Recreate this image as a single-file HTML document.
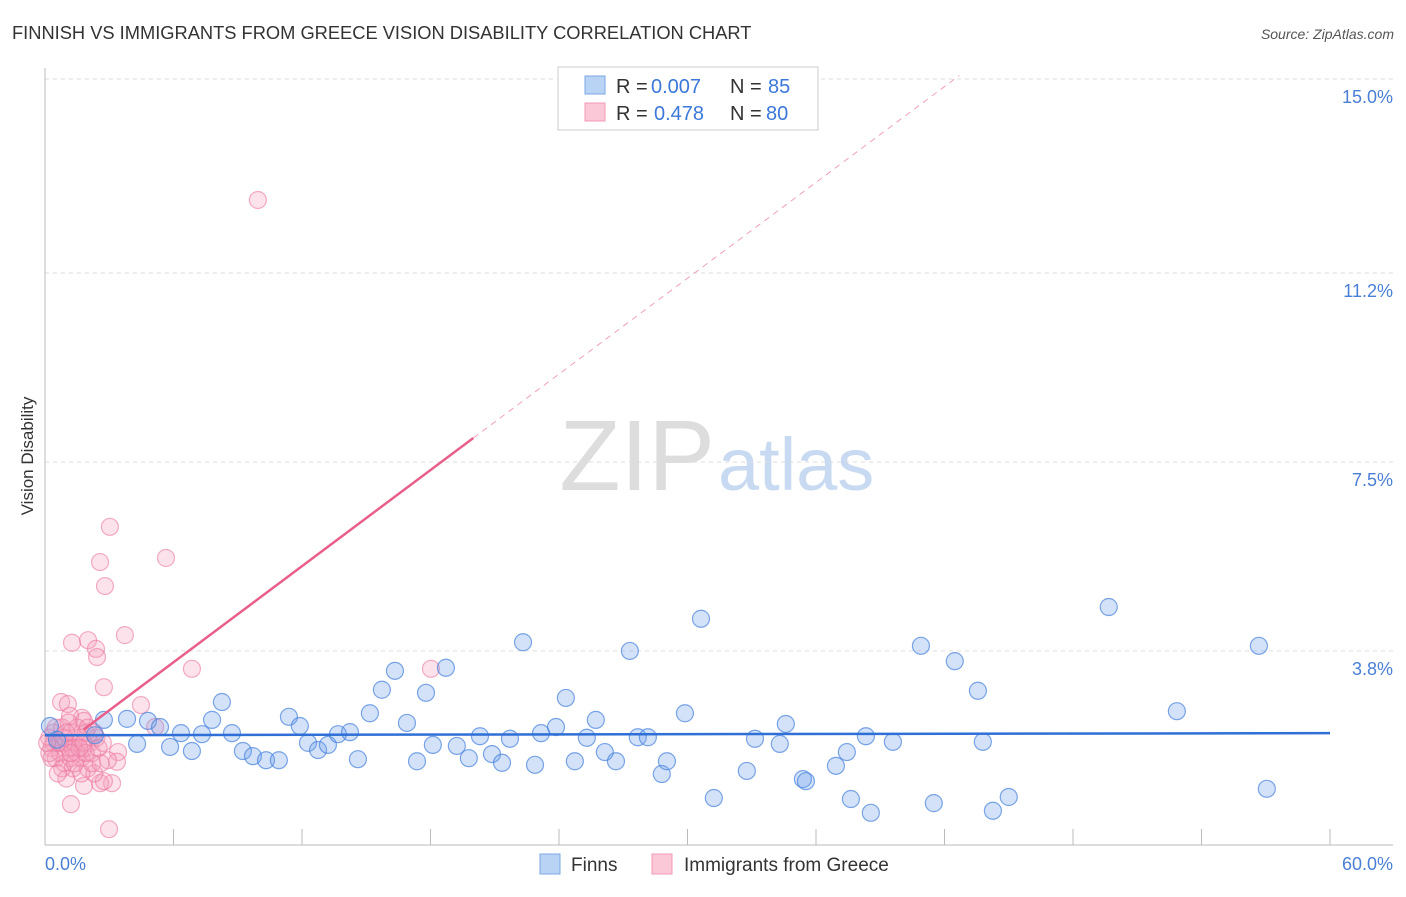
<!DOCTYPE html>
<html><head><meta charset="utf-8"><style>
body{margin:0;background:#fff;font-family:"Liberation Sans",sans-serif;}
svg text{font-family:"Liberation Sans",sans-serif;}
</style></head><body>
<svg id="chart" width="1406" height="892">
<text x="12" y="39" font-size="18.3" fill="#333">FINNISH VS IMMIGRANTS FROM GREECE VISION DISABILITY CORRELATION CHART</text>
<text x="1394" y="39" font-size="14" fill="#555" font-style="italic" text-anchor="end">Source: ZipAtlas.com</text>
<text x="33" y="456" font-size="17" fill="#333" transform="rotate(-90 33 456)" text-anchor="middle">Vision Disability</text>
<text x="715" y="490" font-size="100" fill="#ddd" font-family="Liberation Serif" text-anchor="end">ZIP</text>
<text x="718" y="490" font-size="74" fill="#c8daf2">atlas</text>
<g id="grid"></g><g id="pts"></g><g id="lines"></g>
<g>
<rect x="558" y="67" width="260" height="63" fill="#fff" stroke="#ccc"/>
<rect x="585" y="76" width="20" height="18" fill="#b9d3f5" stroke="#7aa7e6"/>
<rect x="585" y="103" width="20" height="18" fill="#fbc8d8" stroke="#f09ab5"/>
<text x="616" y="93" font-size="20" fill="#333">R =</text>
<text x="651" y="93" font-size="20" fill="#3b78d8">0.007</text>
<text x="730" y="93" font-size="20" fill="#333">N =</text>
<text x="768" y="93" font-size="20" fill="#3b78d8">85</text>
<text x="616" y="120" font-size="20" fill="#333">R =</text>
<text x="654" y="120" font-size="20" fill="#3b78d8">0.478</text>
<text x="730" y="120" font-size="20" fill="#333">N =</text>
<text x="766" y="120" font-size="20" fill="#3b78d8">80</text>
</g>
<g>
<rect x="540" y="854" width="20" height="20" fill="#b9d3f5" stroke="#7aa7e6"/>
<text x="571" y="871" font-size="19" fill="#333">Finns</text>
<rect x="652" y="854" width="20" height="20" fill="#fbc8d8" stroke="#f09ab5"/>
<text x="684" y="871" font-size="19" fill="#333">Immigrants from Greece</text>
</g>
</svg>
<script>
const yTicks=[3.8,7.5,11.2,15.0];
const yTickLabels=["3.8%","7.5%","11.2%","15.0%"];
const xTickCount=10;
const finns=[[2.75,2.45],[3.83,2.47],[4.81,2.43],[5.37,2.31],[4.30,1.98],[5.84,1.92],[6.35,2.19],[6.86,1.84],[7.33,2.17],[7.80,2.45],[8.26,2.80],[8.73,2.19],[9.24,1.84],[9.71,1.74],[10.32,1.66],[10.92,1.66],[11.39,2.51],[11.90,2.33],[12.28,2.00],[12.75,1.86],[13.21,1.96],[13.68,2.17],[14.24,2.21],[14.61,1.68],[15.17,2.58],[15.73,3.04],[16.34,3.41],[16.90,2.39],[17.37,1.64],[17.79,2.98],[18.11,1.96],[18.72,3.47],[19.23,1.94],[19.79,1.70],[20.31,2.13],[20.87,1.78],[21.34,1.61],[21.71,2.08],[22.32,3.97],[22.88,1.57],[23.16,2.19],[23.86,2.31],[24.32,2.88],[24.74,1.64],[25.30,2.10],[25.72,2.45],[26.14,1.82],[26.66,1.64],[27.31,3.80],[27.68,2.11],[28.15,2.11],[28.80,1.39],[29.04,1.64],[29.88,2.58],[30.63,4.43],[31.23,0.92],[32.77,1.45],[33.15,2.08],[34.31,1.98],[34.59,2.37],[35.39,1.29],[35.53,1.25],[36.93,1.55],[37.44,1.82],[37.63,0.90],[38.33,2.13],[38.56,0.63],[39.59,2.02],[40.90,3.90],[41.50,0.82],[42.48,3.60],[43.56,3.02],[43.79,2.02],[44.26,0.67],[45.00,0.94],[49.67,4.66],[52.85,2.62],[56.68,3.90],[57.05,1.10],[0.23,2.33],[0.56,2.06],[2.33,2.15]];
const greece=[[9.94,12.63],[3.03,6.23],[2.57,5.54],[5.65,5.62],[2.80,5.07],[1.26,3.96],[2.01,4.01],[2.38,3.84],[2.43,3.68],[3.73,4.11],[6.86,3.45],[2.75,3.09],[4.48,2.74],[0.75,2.80],[1.07,2.76],[18.02,3.45],[3.13,1.21],[2.99,0.31],[1.21,0.80],[5.14,2.31],[3.41,1.82],[3.36,1.63],[2.94,1.66],[2.57,1.21],[2.75,1.25],[1.82,1.16],[1.73,2.49],[1.82,2.43],[1.17,2.53],[0.2,2.1],[0.3,1.9],[0.4,2.2],[0.5,1.7],[0.6,2.0],[0.7,1.8],[0.8,2.3],[0.9,1.6],[1.0,2.0],[1.1,1.9],[1.2,2.2],[1.3,1.5],[1.4,2.0],[1.5,1.8],[1.6,2.1],[1.7,1.7],[1.8,1.9],[1.9,2.2],[2.0,1.5],[2.1,2.0],[2.2,1.8],[2.3,1.4],[2.4,2.1],[2.5,1.9],[0.3,1.7],[0.5,2.3],[0.8,1.5],[1.0,1.3],[1.2,1.7],[1.5,2.3],[1.7,1.4],[2.0,2.3],[2.2,1.6],[0.4,2.0],[0.9,2.1],[1.3,1.9],[1.8,2.0],[2.6,1.6],[0.6,1.4],[1.1,2.4],[1.4,1.6],[1.9,1.8],[2.7,2.0],[0.2,1.8],[1.6,1.9],[2.3,2.2],[1.0,2.2],[0.7,2.0],[1.2,1.8],[0.1,2.0]];
const finnsTrend=[[0,2.15],[60,2.19]];
const greeceTrend=[[1.8,2.26],[20,7.97],[42.7,15.07]];

const NS="http://www.w3.org/2000/svg";
const X=v=>45+v*(1285/60);
const Y=v=>845-v*51.07;
function mk(tag,attrs,parent){const e=document.createElementNS(NS,tag);for(const k in attrs)e.setAttribute(k,attrs[k]);parent.appendChild(e);return e;}
const grid=document.getElementById('grid');
yTicks.forEach((t,i)=>{
  const l=mk('line',{x1:45,x2:1393,y1:Y(t),y2:Y(t),stroke:'#ddd','stroke-dasharray':'4,4'},grid);
  
  
  const tx=mk('text',{x:1393,y:Y(t)+24,'font-size':18,fill:'#4a7fd6','text-anchor':'end'},grid);
  tx.textContent=yTickLabels[i];
  
  
});
const ax=mk('line',{x1:45,x2:45,y1:68,y2:845,stroke:'#bbb'},grid);


const bx=mk('line',{x1:45,x2:1393,y1:845,y2:845,stroke:'#bbb'},grid);


for(let i=1;i<=xTickCount;i++){
  const t=mk('line',{x1:X(i*6),x2:X(i*6),y1:829,y2:845,stroke:'#bbb'},grid);
  
  
}
[["0.0%",45,'start'],["60.0%",1393,'end']].forEach(a=>{
  const t=mk('text',{x:a[1],y:870,'font-size':18,fill:'#4a7fd6','text-anchor':a[2]},grid);
  t.textContent=a[0];
  
  
});
const pts=document.getElementById('pts');
greece.forEach(p=>{
  const c=mk('circle',{cx:X(p[0]),cy:Y(p[1]),r:8.5,fill:'rgba(245,160,190,0.3)',stroke:'rgba(235,120,160,0.6)','stroke-width':1.2},pts);
  
  
});
finns.forEach(p=>{
  const c=mk('circle',{cx:X(p[0]),cy:Y(p[1]),r:8.5,fill:'rgba(110,160,235,0.3)',stroke:'rgba(70,130,220,0.7)','stroke-width':1.2},pts);
  
  
});
const lines=document.getElementById('lines');
const fl=mk('line',{x1:X(finnsTrend[0][0]),y1:Y(finnsTrend[0][1]),x2:X(finnsTrend[1][0]),y2:Y(finnsTrend[1][1]),stroke:'#2f6fd6','stroke-width':2.5},lines);


const gl=mk('line',{x1:X(greeceTrend[0][0]),y1:Y(greeceTrend[0][1]),x2:X(greeceTrend[1][0]),y2:Y(greeceTrend[1][1]),stroke:'#e8608a','stroke-width':2.5},lines);


const gd=mk('line',{x1:X(greeceTrend[1][0]),y1:Y(greeceTrend[1][1]),x2:X(greeceTrend[2][0]),y2:Y(greeceTrend[2][1]),stroke:'#f0a0b8','stroke-width':1,'stroke-dasharray':'6,5'},lines);


</script>
</body></html>
